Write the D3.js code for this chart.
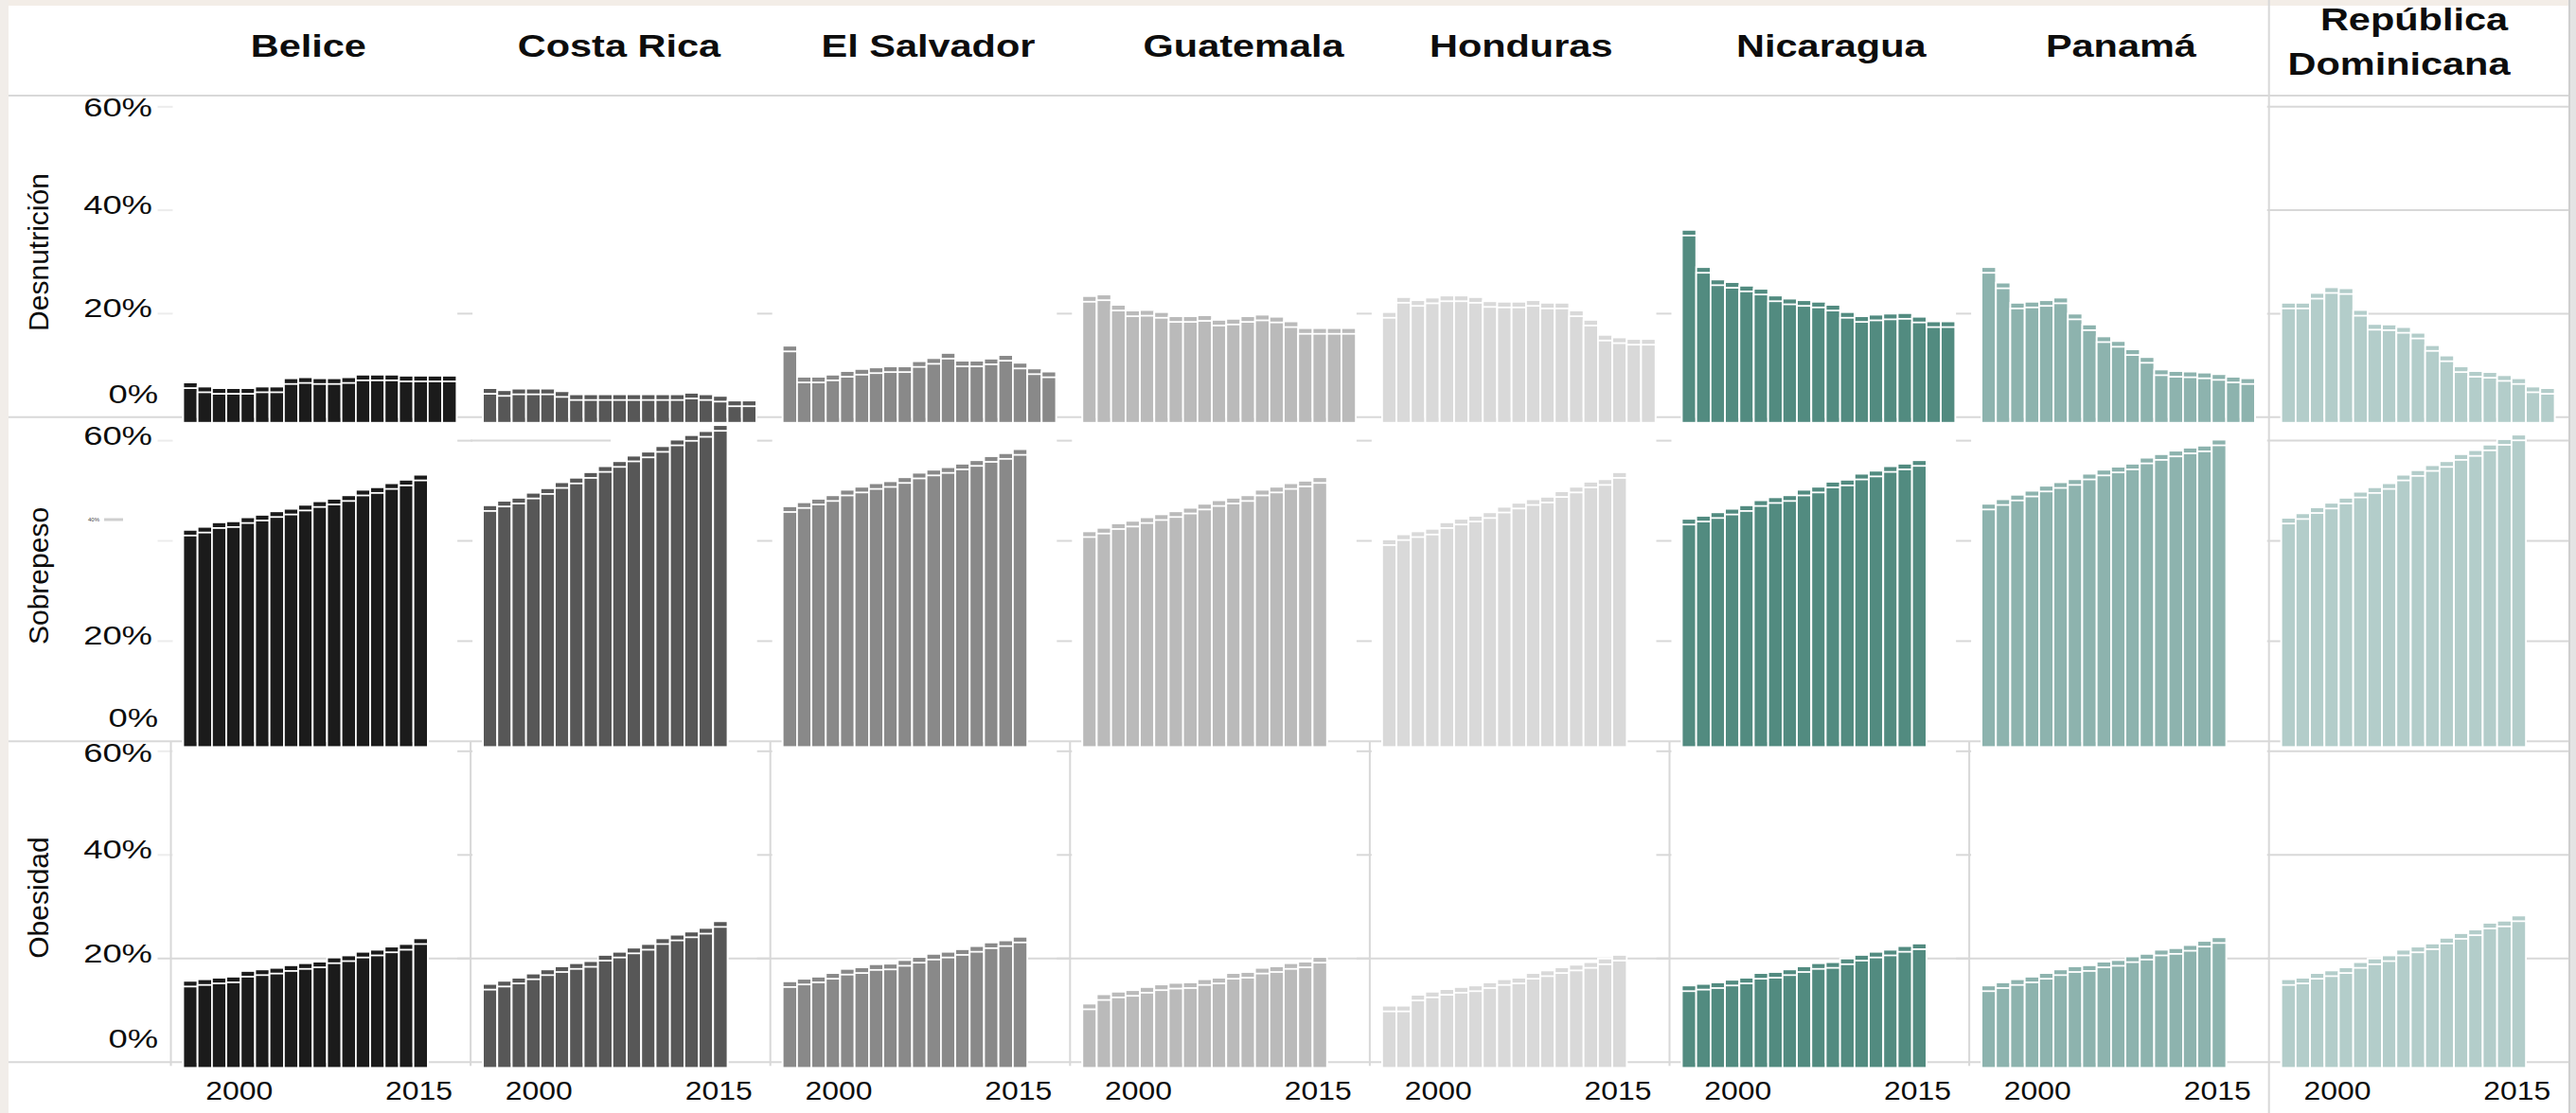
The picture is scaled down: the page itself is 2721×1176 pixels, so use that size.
<!DOCTYPE html>
<html><head><meta charset="utf-8">
<script src="https://cdn.jsdelivr.net/npm/d3@7"></script>
<style>
html,body{margin:0;padding:0;background:#fff;}
svg{display:block;font-family:"Liberation Sans",Arial,sans-serif;}
</style></head><body>
<svg id="chart" width="2721" height="1176"></svg>
<script>
// ---------- DATA ----------
const countries = ["Belice","Costa Rica","El Salvador","Guatemala","Honduras","Nicaragua","Panamá","República Dominicana"];
const countryColors = ["#1b1b1b","#575757","#898989","#bababa","#d9d9d9","#528b80","#8db3ae","#b3cdca"];
const indicators = ["Desnutrición","Sobrepeso","Obesidad"];
const yearsDesnutricion = [2000,2001,2002,2003,2004,2005,2006,2007,2008,2009,2010,2011,2012,2013,2014,2015,2016,2017,2018];
const yearsAdultos = [2000,2001,2002,2003,2004,2005,2006,2007,2008,2009,2010,2011,2012,2013,2014,2015,2016];
const yTicks = [0,20,40,60];
const xTickYears = [2000,2015];

// percent values, one array per country (same order as countries)
const desnutricion = [
  [6.7,5.9,5.6,5.6,5.6,5.9,5.9,7.5,7.7,7.5,7.5,7.7,8.2,8.2,8.2,8.0,8.0,8.0,8.0],
  [5.6,5.2,5.5,5.5,5.5,5.0,4.4,4.4,4.4,4.4,4.4,4.4,4.4,4.4,4.7,4.4,4.1,3.2,3.2],
  [13.8,7.8,7.8,8.2,8.9,9.3,9.6,9.8,9.8,10.8,11.4,12.4,10.9,10.9,11.3,12.0,10.5,9.4,8.8],
  [23.4,23.7,21.7,20.6,20.7,20.3,19.5,19.5,19.7,18.8,19.0,19.5,19.8,19.4,18.5,17.2,17.2,17.2,17.2],
  [20.3,23.2,22.6,23.1,23.5,23.5,23.2,22.4,22.3,22.3,22.6,22.1,22.1,20.6,18.8,15.9,15.4,15.1,15.1],
  [36.2,29.0,26.6,26.1,25.4,24.8,23.5,22.9,22.6,22.3,21.7,20.3,19.5,19.8,20.0,20.1,19.4,18.5,18.5],
  [29.0,26.0,22.1,22.3,22.6,23.1,20.0,17.9,15.6,14.7,13.1,11.6,9.2,8.9,8.8,8.6,8.3,7.8,7.5],
  [22.1,22.1,24.0,25.1,24.9,20.7,18.0,17.9,17.4,16.3,13.9,11.9,9.8,8.9,8.7,8.1,7.5,5.9,5.6]
];
const sobrepeso = [
  [42.2,42.8,43.7,43.9,44.7,45.2,45.9,46.4,47.2,47.9,48.4,49.1,50.2,50.7,51.5,52.2,53.2],
  [47.1,48.0,48.6,49.6,50.5,51.7,52.6,53.7,54.9,55.9,57.0,57.8,58.9,60.2,61.1,61.9,63.1],
  [46.9,47.7,48.4,49.1,50.2,50.8,51.5,51.9,52.7,53.6,54.2,54.7,55.4,56.1,56.9,57.5,58.3],
  [41.9,42.6,43.5,44.0,44.7,45.3,45.9,46.6,47.4,48.1,48.6,49.1,50.2,50.8,51.5,52.0,52.7],
  [40.3,41.3,41.9,42.4,43.7,44.4,45.0,45.7,46.8,47.6,48.3,48.8,49.9,50.8,51.8,52.3,53.7],
  [44.4,45.0,45.7,46.4,47.1,48.1,48.7,49.1,50.2,50.8,51.8,52.2,53.4,54.0,54.9,55.4,56.1],
  [47.4,48.3,49.2,50.0,51.0,51.7,52.3,53.4,54.2,54.8,55.4,56.6,57.3,58.0,58.6,59.0,60.2],
  [44.6,45.5,46.7,47.6,48.6,49.8,50.7,51.5,53.2,54.1,55.1,55.9,57.3,58.1,59.2,60.3,61.2]
];
const obesidad = [
  [15.7,16.0,16.3,16.5,17.6,17.9,18.2,18.7,19.1,19.4,20.2,20.6,21.3,21.7,22.3,22.8,23.9],
  [15.1,15.7,16.3,17.1,17.9,18.5,19.1,19.5,20.7,21.3,22.1,22.8,23.9,24.6,25.2,25.9,27.2],
  [15.6,16.1,16.5,17.2,18.0,18.3,18.9,19.0,19.7,20.3,20.9,21.3,21.8,22.4,23.1,23.5,24.2],
  [11.3,13.1,13.6,13.9,14.5,15.0,15.3,15.4,16.0,16.3,17.2,17.4,18.2,18.5,19.1,19.4,20.3],
  [10.9,10.9,13.0,13.6,14.1,14.5,14.8,15.4,16.0,16.3,17.2,17.7,18.3,18.8,19.3,20.0,20.7],
  [14.8,15.1,15.4,15.9,16.3,17.2,17.4,17.9,18.5,19.1,19.3,20.0,20.7,21.3,21.7,22.4,22.9],
  [14.8,15.4,16.0,16.5,17.2,17.9,18.5,18.7,19.4,19.7,20.4,20.9,21.7,22.0,22.6,23.4,24.1],
  [16.0,16.3,17.2,17.7,18.3,19.3,20.0,20.6,21.7,22.3,22.9,24.0,24.9,25.6,26.9,27.3,28.3]
];

// ---------- LAYOUT (positions only) ----------
const W = 2721, H = 1176;
const svg = d3.select("#chart");
const panelX = d3.scaleBand().domain(countries).range([180.5, 180.5 + 316.6 * 8]).padding(0);
const headerNudge = [-13, -1.5, 8.5, 25, 1.5, 12.5, 2, 0];
const lineColor = "#d8d8d8";
const rowDefs = [
  {name: indicators[0], data: desnutricion, years: yearsDesnutricion, base: 440.7, top: 112.8, topLine: 101, labelY: 266.5},
  {name: indicators[1], data: sobrepeso, years: yearsAdultos, base: 783.3, top: 465.6, topLine: 441, labelY: 608.5},
  {name: indicators[2], data: obesidad, years: yearsAdultos, base: 1122.3, top: 793.8, topLine: 783, labelY: 948.5}
];
const barStep = 15.2, barOffset = 13, capShift = 6;
const yearScale = d3.scaleLinear().domain([1995, 2018]).range([9, 300]);

function stretchedText(parent, x, y, str, size, anchor, weight, stretch) {
  return parent.append("text")
    .attr("transform", `translate(${x},${y}) scale(${stretch},1)`)
    .attr("text-anchor", anchor).attr("font-size", size)
    .attr("font-weight", weight || "normal").attr("fill", "#0d0d0d").text(str);
}

// background strips (screenshot edges)
svg.append("rect").attr("x",0).attr("y",0).attr("width",W).attr("height",H).attr("fill","#fff");
svg.append("rect").attr("x",0).attr("y",0).attr("width",W).attr("height",6).attr("fill","#f3ede7");
svg.append("rect").attr("x",0).attr("y",0).attr("width",9).attr("height",H).attr("fill","#f1ede9");
svg.append("rect").attr("x",2715).attr("y",0).attr("width",6).attr("height",H).attr("fill","#e4e4e4");

const grid = svg.append("g");
const marks = svg.append("g");
const texts = svg.append("g");

grid.append("line").attr("x1",9).attr("x2",2714).attr("y1",101).attr("y2",101)
  .attr("stroke",lineColor).attr("stroke-width",2);

const lastCountry = countries[countries.length-1];

rowDefs.forEach((row, ri) => {
  const y = d3.scaleLinear().domain([0,60]).range([row.base, row.top]);
  grid.append("line").attr("x1",9).attr("x2",2714).attr("y1",row.base).attr("y2",row.base)
    .attr("stroke",lineColor).attr("stroke-width",2);

  countries.forEach((c, ci) => {
    const left = panelX(c);
    const isLast = c === lastCountry;
    yTicks.filter(v => v > 0).forEach(v => {
      if (isLast) {
        grid.append("line").attr("x1",left-2).attr("x2",2714).attr("y1",y(v)).attr("y2",y(v))
          .attr("stroke",lineColor).attr("stroke-width",2);
      } else if (ri === 2 && v === 20) {
        grid.append("line").attr("x1",left-14).attr("x2",left+panelX.bandwidth()).attr("y1",y(v)).attr("y2",y(v))
          .attr("stroke",lineColor).attr("stroke-width",2);
      } else if (!(ri === 0 && v > 20) || ci === 0) {
        grid.append("line").attr("x1",left-14).attr("x2",left+2).attr("y1",y(v)).attr("y2",y(v))
          .attr("stroke", ci === 0 ? "#ececec" : lineColor).attr("stroke-width",2);
      }
    });
    if (ri === 1 && ci === 1) {
      grid.append("line").attr("x1",left).attr("x2",left+148).attr("y1",y(60)).attr("y2",y(60))
        .attr("stroke",lineColor).attr("stroke-width",2);
    }
    if (ri === 2 && !isLast) {
      grid.append("line").attr("x1",left).attr("x2",left).attr("y1",rowDefs[1].base).attr("y2",row.base+4)
        .attr("stroke",lineColor).attr("stroke-width",2);
    }

    const x = d3.scaleBand().domain(row.years)
      .range([left + barOffset, left + barOffset + barStep * row.years.length]).padding(0);
    const vals = row.data[ci].map((v, i) => ({year: row.years[i], v}));
    const bars = marks.append("g").selectAll("g.bar").data(vals).join("g").attr("class","bar");
    bars.append("rect")
      .attr("x", d => x(d.year)).attr("width", x.bandwidth())
      .attr("y", d => y(d.v)).attr("height", d => y(0) - y(d.v))
      .attr("fill", countryColors[ci]).attr("stroke","#fff").attr("stroke-width",1.8);
    bars.append("rect")
      .attr("x", d => x(d.year)).attr("width", x.bandwidth())
      .attr("y", d => y(d.v) + capShift).attr("height", d => y(0) - y(d.v))
      .attr("fill", countryColors[ci]).attr("stroke","#fff").attr("stroke-width",1.8);
  });

  yTicks.forEach(v => {
    if (ri === 1 && v === 40) return;
    const by = v === 0 ? y(0) - 15 : Math.max(y(v) + 4, row.topLine + 22);
    stretchedText(texts, v === 0 ? 167 : 161, by, v + "%", 28, "end", "normal", 1.3);
  });
  if (ri === 1) {
    const yy = 549;
    texts.append("text").attr("x",105).attr("y",yy).attr("text-anchor","end")
      .attr("dominant-baseline","central").attr("font-size",6).attr("fill","#444").text("40%");
    grid.append("line").attr("x1",110).attr("x2",130).attr("y1",yy).attr("y2",yy)
      .attr("stroke","#cfcfcf").attr("stroke-width",3);
  }

  texts.append("text").attr("transform",`translate(40,${row.labelY}) rotate(-90)`)
    .attr("text-anchor","middle").attr("dominant-baseline","central")
    .attr("font-size",30).attr("fill","#0d0d0d").text(row.name);
});

grid.append("line").attr("x1",panelX(lastCountry)).attr("x2",panelX(lastCountry)).attr("y1",0).attr("y2",H)
  .attr("stroke",lineColor).attr("stroke-width",2);
grid.append("line").attr("x1",2714).attr("x2",2714).attr("y1",0).attr("y2",H)
  .attr("stroke","#cfcfcf").attr("stroke-width",2);

countries.forEach((c, ci) => {
  const cx = panelX(c) + panelX.bandwidth()/2 + headerNudge[ci];
  if (c === "República Dominicana") {
    stretchedText(texts, cx - 5, 32, "República", 34, "middle", "bold", 1.22);
    stretchedText(texts, cx - 21, 79, "Dominicana", 34, "middle", "bold", 1.22);
  } else {
    stretchedText(texts, cx, 60, c, 34, "middle", "bold", 1.22);
  }
  xTickYears.forEach(yr => {
    stretchedText(texts, panelX(c) + yearScale(yr), 1162, String(yr), 28.5, "middle", "normal", 1.12);
  });
});
</script>
</body></html>
